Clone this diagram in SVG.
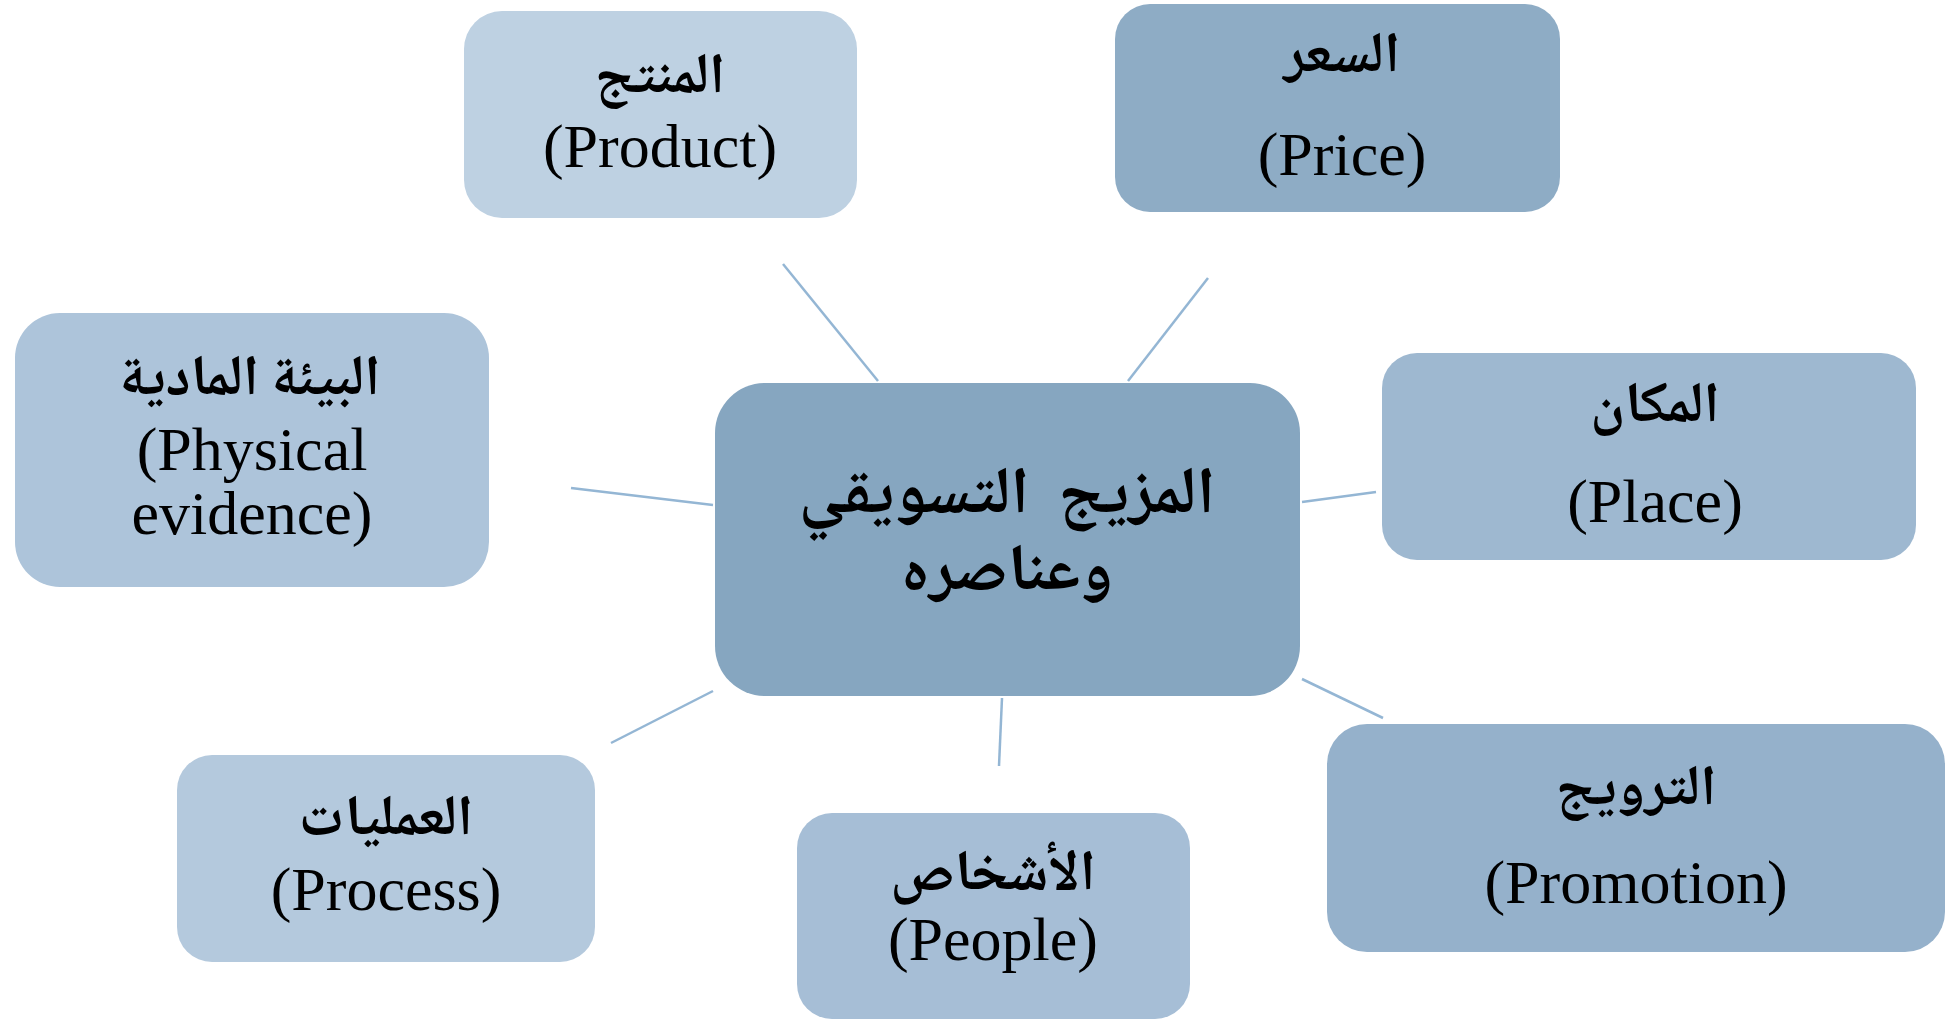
<svg xmlns="http://www.w3.org/2000/svg" width="1946" height="1019" viewBox="0 0 1946 1019">
  <style>
    .ar { font-family: "Noto Naskh Arabic", "Noto Sans Arabic", "DejaVu Sans", sans-serif; font-weight: bold; font-size: 57px; fill: #000; text-anchor: middle; }
    .arc { font-size: 66px; white-space: pre; }
    .en { font-family: "Liberation Serif", "Times New Roman", serif; font-size: 62px; fill: #000; text-anchor: middle; }
    .link { stroke: #94b6d4; stroke-width: 2.5; fill: none; stroke-linecap: butt; }
  </style>
  <rect width="1946" height="1019" fill="#ffffff"/>

  <!-- spokes from the hub to each element -->
  <g id="connectors">
    <line class="link" x1="783" y1="264" x2="878" y2="381"/>
    <line class="link" x1="1208" y1="278" x2="1128" y2="381"/>
    <line class="link" x1="1376" y1="492" x2="1302" y2="502"/>
    <line class="link" x1="1383" y1="718" x2="1302" y2="679"/>
    <line class="link" x1="1002" y1="698" x2="999" y2="766"/>
    <line class="link" x1="713" y1="691" x2="611" y2="743"/>
    <line class="link" x1="713" y1="505" x2="571" y2="488"/>
  </g>

  <!-- hub -->
  <g id="marketing-mix">
    <rect x="715" y="383" width="585" height="313" rx="50" fill="#86a6c0"/>
    <text class="ar arc" x="1007" y="513">المزيج  التسويقي</text>
    <text class="ar arc" x="1007" y="590">وعناصره</text>
  </g>

  <g id="product">
    <rect x="464" y="11" width="393" height="207" rx="38" fill="#bed1e2"/>
    <text class="ar" x="660" y="93">المنتج</text>
    <text class="en" x="660" y="167">(Product)</text>
  </g>

  <g id="price">
    <rect x="1115" y="4" width="445" height="208" rx="35" fill="#8eacc5"/>
    <text class="ar" x="1342" y="72">السعر</text>
    <text class="en" x="1342" y="175">(Price)</text>
  </g>

  <g id="physical-evidence">
    <rect x="15" y="313" width="474" height="274" rx="45" fill="#adc4da"/>
    <text class="ar" x="250" y="395">البيئة المادية</text>
    <text class="en" x="252" y="470">(Physical</text>
    <text class="en" x="252" y="534">evidence)</text>
  </g>

  <g id="place">
    <rect x="1382" y="353" width="534" height="207" rx="35" fill="#9eb8d0"/>
    <text class="ar" x="1655" y="422">المكان</text>
    <text class="en" x="1655" y="522">(Place)</text>
  </g>

  <g id="process">
    <rect x="177" y="755" width="418" height="207" rx="35" fill="#b4c9dd"/>
    <text class="ar" x="386" y="835">العمليات</text>
    <text class="en" x="386" y="910">(Process)</text>
  </g>

  <g id="people">
    <rect x="797" y="813" width="393" height="206" rx="35" fill="#a6bed6"/>
    <text class="ar" x="993" y="890">الأشخاص</text>
    <text class="en" x="993" y="960">(People)</text>
  </g>

  <g id="promotion">
    <rect x="1327" y="724" width="618" height="228" rx="40" fill="#95b1cb"/>
    <text class="ar" x="1636" y="805">الترويج</text>
    <text class="en" x="1636" y="903">(Promotion)</text>
  </g>
</svg>
